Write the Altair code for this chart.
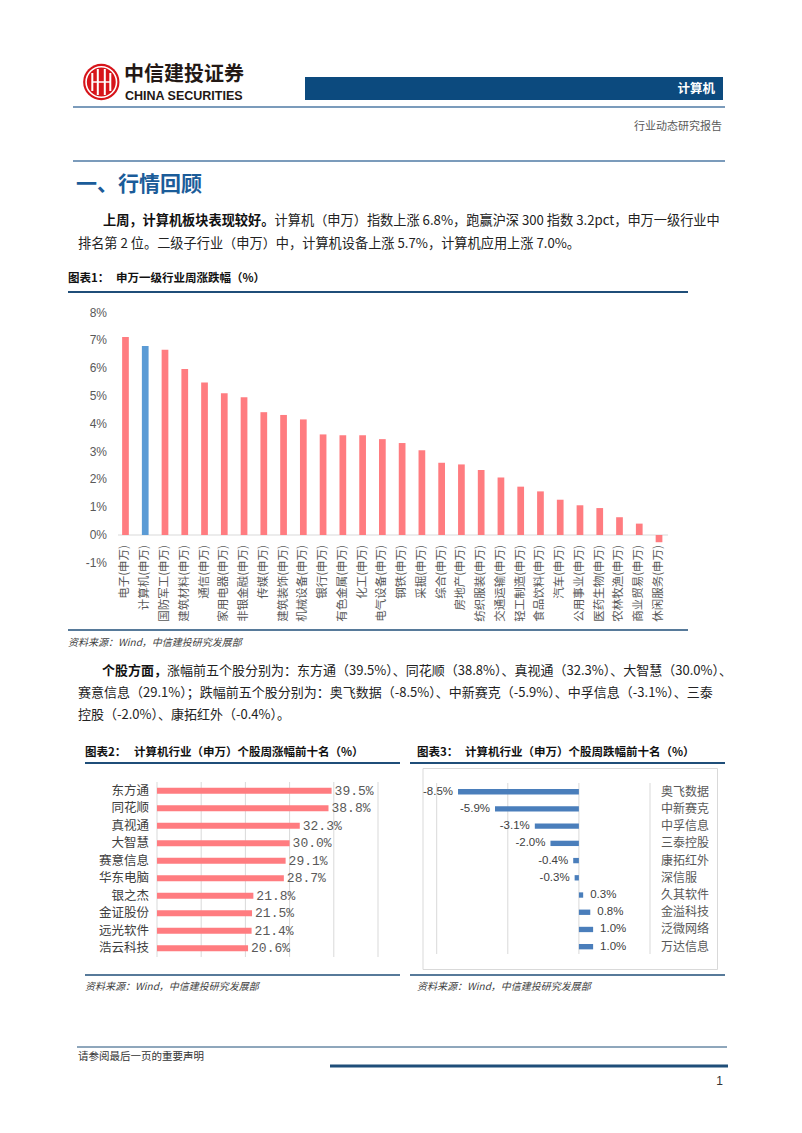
import altair as alt
import pandas as pd

# ---------------- data ----------------
industries = ["电子(申万)", "计算机(申万)", "国防军工(申万)", "建筑材料(申万)", "通信(申万)",
              "家用电器(申万)", "非银金融(申万)", "传媒(申万)", "建筑装饰(申万)", "机械设备(申万)",
              "银行(申万)", "有色金属(申万)", "化工(申万)", "电气设备(申万)", "钢铁(申万)",
              "采掘(申万)", "综合(申万)", "房地产(申万)", "纺织服装(申万)", "交通运输(申万)",
              "轻工制造(申万)", "食品饮料(申万)", "汽车(申万)", "公用事业(申万)", "医药生物(申万)",
              "农林牧渔(申万)", "商业贸易(申万)", "休闲服务(申万)"]
industry_returns = [7.13, 6.8, 6.67, 5.97, 5.49, 5.10, 4.96, 4.42, 4.32, 4.16,
                    3.62, 3.59, 3.59, 3.45, 3.31, 3.05, 2.60, 2.54, 2.34, 2.07,
                    1.74, 1.57, 1.27, 1.07, 0.97, 0.64, 0.41, -0.26]
highlight = "计算机(申万)"
y1_ticks = [8, 7, 6, 5, 4, 3, 2, 1, 0, -1]
y1_tick_labels = ["8%", "7%", "6%", "5%", "4%", "3%", "2%", "1%", "0%", "-1%"]
y1_baseline = [0]

gainers = ["东方通", "同花顺", "真视通", "大智慧", "赛意信息", "华东电脑", "银之杰", "金证股份", "远光软件", "浩云科技"]
gainer_returns = [39.5, 38.8, 32.3, 30.0, 29.1, 28.7, 21.8, 21.5, 21.4, 20.6]
x2_grid = [0, 10, 20, 30, 40, 50]

losers = ["奥飞数据", "中新赛克", "中孚信息", "三泰控股", "康拓红外", "深信服", "久其软件", "金溢科技", "泛微网络", "万达信息"]
loser_returns = [-8.5, -5.9, -3.1, -2.0, -0.4, -0.3, 0.3, 0.8, 1.0, 1.0]
x3_grid = [-10, -5, 0, 5]

# ---------------- helpers (page coords -> canvas coords) ----------------
CJK = "Noto Sans CJK SC"
LAT = "Liberation Sans"
M = 8
one = pd.DataFrame({"k": [0]})
RED_BAR = "#ff7c80"
BLUE_BAR = "#4a7ebb"
NAVY = "#1f4e79"


def txt(s, x, y, size, color="#1a1a1a", weight="normal", align="left", font=CJK, style="normal"):
    return alt.Chart(one).mark_text(text=s, fontSize=size, color=color, fontWeight=weight,
                                    align=align, baseline="middle", font=font,
                                    fontStyle=style).encode(x=alt.value(x - M), y=alt.value(y - M))


def hline(x1, x2, y, color, w):
    return alt.Chart(one).mark_rule(color=color, strokeWidth=w).encode(
        x=alt.value(x1 - M), x2=alt.value(x2 - M), y=alt.value(y - M))


def vline(x, y1, y2, color, w):
    return alt.Chart(one).mark_rule(color=color, strokeWidth=w).encode(
        x=alt.value(x - M), y=alt.value(y1 - M), y2=alt.value(y2 - M))


def box(x1, x2, y1, y2, fill=None, stroke=None):
    kw = {}
    if fill:
        kw["fill"] = fill
    else:
        kw["fillOpacity"] = 0
    if stroke:
        kw["stroke"] = stroke
        kw["strokeWidth"] = 1
    return alt.Chart(one).mark_rect(**kw).encode(
        x=alt.value(x1 - M), x2=alt.value(x2 - M), y=alt.value(y1 - M), y2=alt.value(y2 - M))


decor = []
# logo
cx, cy = 101.3, 82
decor.append(alt.Chart(one).mark_circle(size=1320, color="#d7141a", opacity=1).encode(
    x=alt.value(cx - M), y=alt.value(cy - M)))
decor.append(alt.Chart(one).mark_point(shape="circle", size=930, filled=False, color="white",
                                       strokeWidth=1.6, opacity=1).encode(
    x=alt.value(cx - M), y=alt.value(cy - M)))
for dx, h in [(-9, 9), (-3.5, 13), (3.5, 13), (9, 9)]:
    decor.append(vline(cx + dx, cy - h, cy + h, "white", 2))
decor.append(hline(cx - 9, cx + 9, cy, "white", 1.5))
decor.append(txt("中信建投证券", 124, 75, 20, "#231815", "bold"))
decor.append(txt("CHINA SECURITIES", 125, 95.5, 12.5, "#231815", "bold", font=LAT))
decor.append(box(305, 723, 77, 100, fill="#0c4a7e"))
decor.append(txt("计算机", 715, 88.5, 12.5, "white", "bold", "right"))
decor.append(hline(73, 725, 107, "#4f7aa5", 1.5))
decor.append(txt("行业动态研究报告", 722, 127, 11, "#595959", align="right"))
decor.append(hline(73, 725, 161, "#4f7aa5", 1.5))
decor.append(txt("一、行情回顾", 76, 184.5, 21, "#1b5c99", "bold"))

P1 = 13.2
decor.append(txt("上周，计算机板块表现较好。", 103, 221, P1, "#111", "bold"))
decor.append(txt("计算机（申万）指数上涨 6.8%，跑赢沪深 300 指数 3.2pct，申万一级行业中",
                 103 + 13 * P1, 221, P1, "#222"))
decor.append(txt("排名第 2 位。二级子行业（申万）中，计算机设备上涨 5.7%，计算机应用上涨 7.0%。",
                 78, 244, P1, "#222"))

decor.append(txt("图表1：", 68, 279, 11.5, "#111", "bold"))
decor.append(txt("申万一级行业周涨跌幅（%）", 116, 279, 11.5, "#111", "bold"))
decor.append(hline(68, 688, 292, NAVY, 2))
decor.append(hline(68, 688, 630, NAVY, 1.5))
decor.append(txt("资料来源：Wind，中信建投研究发展部", 68, 643, 10, "#404040", style="italic"))

P2 = 13
decor.append(txt("个股方面，", 102, 671, P2, "#111", "bold"))
decor.append(txt("涨幅前五个股分别为：东方通（39.5%）、同花顺（38.8%）、真视通（32.3%）、大智慧（30.0%）、",
                 102 + 5 * P2, 671, P2, "#222"))
decor.append(txt("赛意信息（29.1%）；跌幅前五个股分别为：奥飞数据（-8.5%）、中新赛克（-5.9%）、中孚信息（-3.1%）、三泰",
                 78, 693, P2, "#222"))
decor.append(txt("控股（-2.0%）、康拓红外（-0.4%）。", 78, 715, P2, "#222"))

decor.append(txt("图表2：", 85, 753, 11.5, "#111", "bold"))
decor.append(txt("计算机行业（申万）个股周涨幅前十名（%）", 134, 753, 11.5, "#111", "bold"))
decor.append(txt("图表3：", 417, 753, 11.5, "#111", "bold"))
decor.append(txt("计算机行业（申万）个股周跌幅前十名（%）", 465, 753, 11.5, "#111", "bold"))
decor.append(hline(85, 400, 763, NAVY, 2))
decor.append(hline(410, 725, 763, NAVY, 2))
decor.append(box(423, 717.5, 768.5, 969.5, stroke="#d9d9d9"))
decor.append(hline(85, 400, 975, NAVY, 1.5))
decor.append(hline(410, 725, 975, NAVY, 1.5))
decor.append(txt("资料来源：Wind，中信建投研究发展部", 85, 987, 10, "#404040", style="italic"))
decor.append(txt("资料来源：Wind，中信建投研究发展部", 417, 987, 10, "#404040", style="italic"))

decor.append(hline(77, 727, 1047, NAVY, 1))
decor.append(txt("请参阅最后一页的重要声明", 78, 1057, 10.5, "#333"))
decor.append(hline(330, 728, 1066, NAVY, 3))
decor.append(txt("1", 723, 1081, 12, "#333", align="right", font=LAT))

# ---------------- chart 1 ----------------
df1 = pd.DataFrame({"industry": industries, "ret": industry_returns})


def sx1():
    return alt.Scale(domain=industries, range=[115.6 - M, 668.9 - M], paddingInner=0.66, paddingOuter=0.33)


def sy1():
    return alt.Scale(domain=[-1, 8], range=[562.8 - M, 312.7 - M], nice=False, zero=False)


zero1 = alt.Chart(pd.DataFrame({"b": y1_baseline})).mark_rule(color="#d9d9d9", strokeWidth=1).encode(
    y=alt.Y("b:Q", scale=sy1(), axis=None), x=alt.value(118 - M), x2=alt.value(668 - M))
bars1 = alt.Chart(df1).mark_bar().encode(
    x=alt.X("industry:N", sort=industries, scale=sx1(), axis=None),
    y=alt.Y("ret:Q", scale=sy1(), axis=None),
    color=alt.condition(alt.datum.industry == highlight, alt.value("#5b9bd5"), alt.value(RED_BAR)))
xlab1 = alt.Chart(df1).mark_text(angle=270, align="right", baseline="middle", fontSize=11.5,
                                 color="#595959", font=CJK).encode(
    x=alt.X("industry:N", sort=industries, scale=sx1(), axis=None),
    y=alt.value(545 - M), text="industry:N")
ticks1 = alt.Chart(pd.DataFrame({"tick": y1_ticks, "label": y1_tick_labels})).mark_text(
    align="right", baseline="middle", fontSize=12, color="#595959", font=LAT).encode(
    y=alt.Y("tick:Q", scale=sy1(), axis=None), x=alt.value(107 - M), text="label:N")

# ---------------- chart 2 ----------------
df2 = pd.DataFrame({"stock": gainers, "ret": gainer_returns})
df2["label"] = [f"{v:.1f}%" for v in gainer_returns]


def sx2():
    return alt.Scale(domain=[0, 50], range=[157 - M, 378 - M], nice=False)


def sy2():
    return alt.Scale(domain=gainers, range=[782 - M, 957 - M], paddingInner=0.66, paddingOuter=0.33)


def X2():
    return alt.X("ret:Q", scale=sx2(), axis=None)


def Y2():
    return alt.Y("stock:N", sort=gainers, scale=sy2(), axis=None)


grid2 = alt.Chart(pd.DataFrame({"g": x2_grid})).mark_rule(color="#d9d9d9").encode(
    x=alt.X("g:Q", scale=sx2(), axis=None), y=alt.value(782 - M), y2=alt.value(957 - M))
bars2 = alt.Chart(df2).mark_bar(color=RED_BAR).encode(x=X2(), y=Y2())
vals2 = alt.Chart(df2).mark_text(align="left", baseline="middle", dx=3, fontSize=13,
                                 font="Liberation Mono", color="#595959").encode(x=X2(), y=Y2(), text="label:N")
cats2 = alt.Chart(df2).mark_text(align="right", baseline="middle", fontSize=12.5,
                                 font=CJK, color="#404040").encode(y=Y2(), x=alt.value(149 - M), text="stock:N")

# ---------------- chart 3 ----------------
df3 = pd.DataFrame({"stock": losers, "ret": loser_returns})
df3["label"] = [f"{v:.1f}%" for v in loser_returns]


def sx3():
    return alt.Scale(domain=[-10, 5], range=[436.7 - M, 650 - M], nice=False)


def sy3():
    return alt.Scale(domain=losers, range=[783.1 - M, 955.3 - M], paddingInner=0.69, paddingOuter=0.345)


def X3():
    return alt.X("ret:Q", scale=sx3(), axis=None)


def Y3():
    return alt.Y("stock:N", sort=losers, scale=sy3(), axis=None)


grid3 = alt.Chart(pd.DataFrame({"g": x3_grid})).mark_rule(color="#d9d9d9").encode(
    x=alt.X("g:Q", scale=sx3(), axis=None), y=alt.value(783 - M), y2=alt.value(954 - M))
bars3 = alt.Chart(df3).mark_bar(color=BLUE_BAR).encode(x=X3(), y=Y3())
neg3 = alt.Chart(df3).transform_filter("datum.ret < 0").mark_text(
    align="right", baseline="middle", dx=-5, fontSize=11.5, font=LAT, color="#404040").encode(
    x=X3(), y=Y3(), text="label:N")
pos3 = alt.Chart(df3).transform_filter("datum.ret >= 0").mark_text(
    align="left", baseline="middle", dx=7, fontSize=11.5, font=LAT, color="#404040").encode(
    x=X3(), y=Y3(), text="label:N")
cats3 = alt.Chart(df3).mark_text(align="left", baseline="middle", fontSize=12,
                                 font=CJK, color="#595959").encode(y=Y3(), x=alt.value(661 - M), text="stock:N")

layers = decor + [zero1, bars1, xlab1, ticks1, grid2, bars2, vals2, cats2,
                  grid3, bars3, neg3, pos3, cats3]

chart = alt.layer(*layers).resolve_scale(
    x="independent", y="independent").properties(
    width=786, height=1105, padding=0).configure_view(stroke=None)

chart.save("out.html", embed_options={"renderer": "svg", "actions": False})
